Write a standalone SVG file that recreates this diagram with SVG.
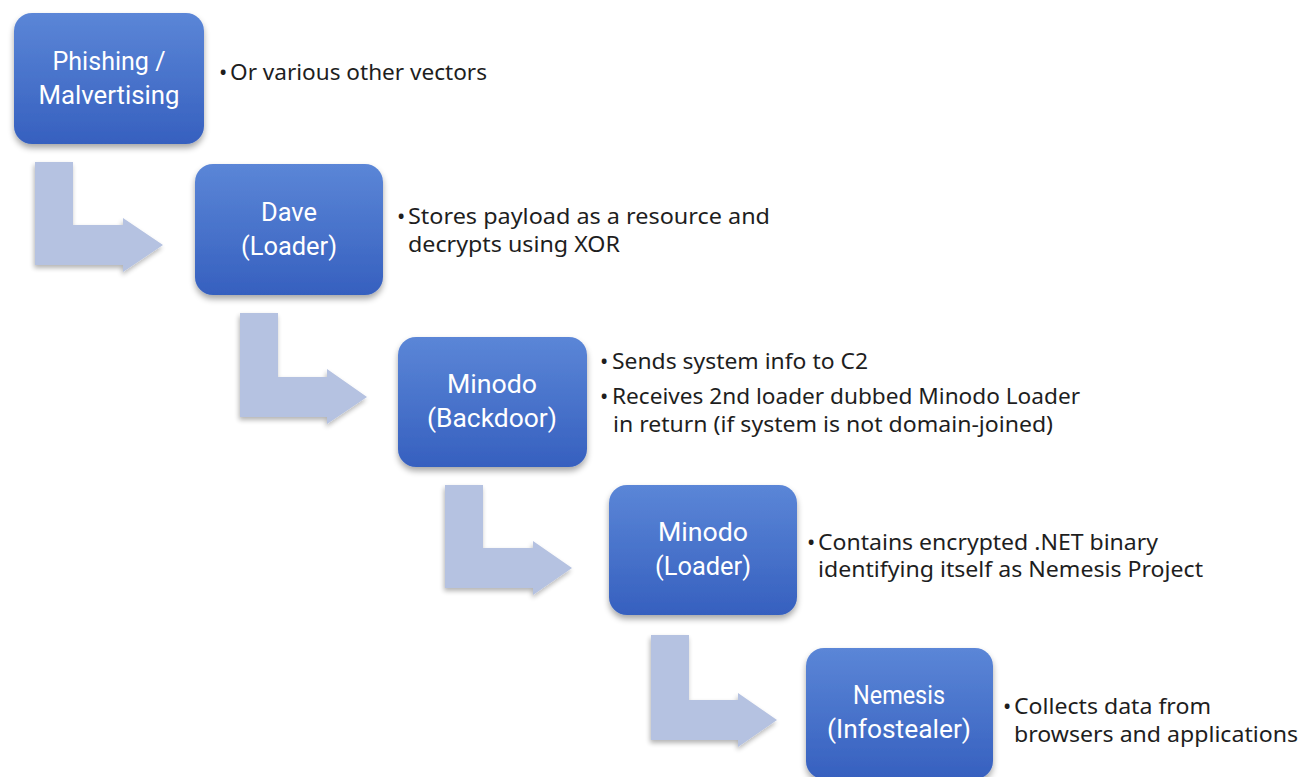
<svg xmlns="http://www.w3.org/2000/svg" width="1301" height="777" viewBox="0 0 1301 777">
  <defs>
    <linearGradient id="boxGrad" x1="0" y1="0" x2="0" y2="1">
      <stop offset="0" stop-color="#5b86d7"/>
      <stop offset="1" stop-color="#3660bf"/>
    </linearGradient>
    <filter id="shadow" x="-10%" y="-10%" width="125%" height="130%">
      <feGaussianBlur in="SourceAlpha" stdDeviation="3"/>
      <feOffset dx="0" dy="4" result="b"/>
      <feComponentTransfer><feFuncA type="linear" slope="0.35"/></feComponentTransfer>
      <feMerge><feMergeNode/><feMergeNode in="SourceGraphic"/></feMerge>
    </filter>
    <filter id="ashadow" x="-10%" y="-10%" width="125%" height="130%">
      <feGaussianBlur in="SourceAlpha" stdDeviation="2.5"/>
      <feOffset dx="-1" dy="3" result="b"/>
      <feComponentTransfer><feFuncA type="linear" slope="0.3"/></feComponentTransfer>
      <feMerge><feMergeNode/><feMergeNode in="SourceGraphic"/></feMerge>
    </filter>
  </defs>
  <style>
    .box { fill: url(#boxGrad); filter: url(#shadow); }
    .lbl { font-family: "Liberation Sans Narrow", "Roboto", "Liberation Sans", sans-serif; font-size: 26px; fill: #ffffff; text-anchor: middle; }
    .txt { font-family: "Noto Sans", "Open Sans", "Liberation Sans", sans-serif; font-size: 22px; fill: #1e1e1e; }
    .arrow { fill: #b5c2e1; filter: url(#ashadow); }
  </style>
  <rect width="1301" height="777" fill="#ffffff"/>

  <g id="connectors">
    <path class="arrow" d="M35,162 H73 V225 H123 V218 L163,245 L123,272 V265 H35 Z"/>
    <path class="arrow" d="M240,313 H278 V377 H327 V369 L367,397 L327,424 V417 H240 Z"/>
    <path class="arrow" d="M445,485 H483 V548 H533 V541 L572,568 L533,595 V588 H445 Z"/>
    <path class="arrow" d="M651,635 H689 V700 H738 V693 L777,720 L738,747 V740 H651 Z"/>
  </g>

  <g id="node-phishing">
    <rect class="box" x="14" y="13" width="190" height="131" rx="18"/>
    <text class="lbl" x="109" y="70" textLength="113" lengthAdjust="spacingAndGlyphs">Phishing /</text>
    <text class="lbl" x="109" y="104" textLength="141" lengthAdjust="spacingAndGlyphs">Malvertising</text>
    <text class="txt" x="219" y="80">•</text>
    <text class="txt" x="230" y="80" textLength="257" lengthAdjust="spacingAndGlyphs">Or various other vectors</text>
  </g>

  <g id="node-dave">
    <rect class="box" x="195" y="164" width="188" height="131" rx="18"/>
    <text class="lbl" x="289" y="221" textLength="56" lengthAdjust="spacingAndGlyphs">Dave</text>
    <text class="lbl" x="289" y="255" textLength="96" lengthAdjust="spacingAndGlyphs">(Loader)</text>
    <text class="txt" x="397" y="224">•</text>
    <text class="txt" x="408" y="224" textLength="362" lengthAdjust="spacingAndGlyphs">Stores payload as a resource and</text>
    <text class="txt" x="408" y="252" textLength="212" lengthAdjust="spacingAndGlyphs">decrypts using XOR</text>
  </g>

  <g id="node-minodo-backdoor">
    <rect class="box" x="398" y="337" width="189" height="130" rx="18"/>
    <text class="lbl" x="492" y="393" textLength="90" lengthAdjust="spacingAndGlyphs">Minodo</text>
    <text class="lbl" x="492" y="427" textLength="130" lengthAdjust="spacingAndGlyphs">(Backdoor)</text>
    <text class="txt" x="600" y="369">•</text>
    <text class="txt" x="612" y="369" textLength="256" lengthAdjust="spacingAndGlyphs">Sends system info to C2</text>
    <text class="txt" x="600" y="404">•</text>
    <text class="txt" x="612" y="404" textLength="468" lengthAdjust="spacingAndGlyphs">Receives 2nd loader dubbed Minodo Loader</text>
    <text class="txt" x="613" y="432" textLength="440" lengthAdjust="spacingAndGlyphs">in return (if system is not domain-joined)</text>
  </g>

  <g id="node-minodo-loader">
    <rect class="box" x="609" y="485" width="188" height="130" rx="18"/>
    <text class="lbl" x="703" y="541" textLength="90" lengthAdjust="spacingAndGlyphs">Minodo</text>
    <text class="lbl" x="703" y="575" textLength="96" lengthAdjust="spacingAndGlyphs">(Loader)</text>
    <text class="txt" x="807" y="550">•</text>
    <text class="txt" x="818" y="550" textLength="340" lengthAdjust="spacingAndGlyphs">Contains encrypted .NET binary</text>
    <text class="txt" x="818" y="577" textLength="385" lengthAdjust="spacingAndGlyphs">identifying itself as Nemesis Project</text>
  </g>

  <g id="node-nemesis">
    <rect class="box" x="806" y="648" width="187" height="131" rx="18"/>
    <text class="lbl" x="899" y="704" textLength="92" lengthAdjust="spacingAndGlyphs">Nemesis</text>
    <text class="lbl" x="899" y="738" textLength="144" lengthAdjust="spacingAndGlyphs">(Infostealer)</text>
    <text class="txt" x="1003" y="714">•</text>
    <text class="txt" x="1014" y="714" textLength="197" lengthAdjust="spacingAndGlyphs">Collects data from</text>
    <text class="txt" x="1014" y="742" textLength="284" lengthAdjust="spacingAndGlyphs">browsers and applications</text>
  </g>
</svg>
